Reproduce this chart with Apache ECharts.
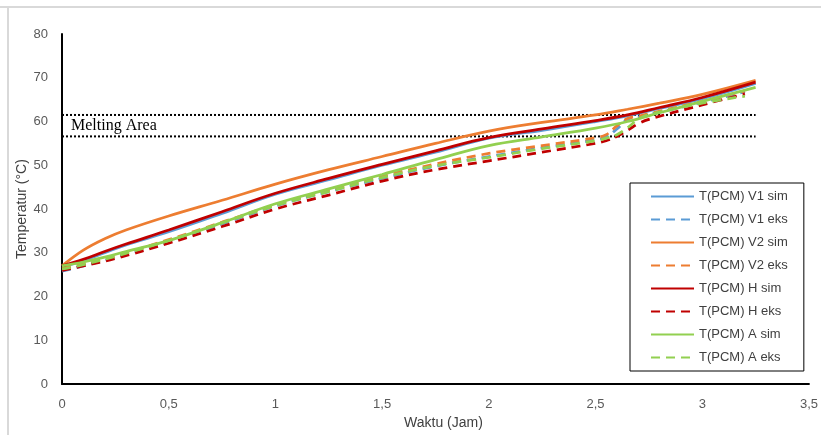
<!DOCTYPE html>
<html>
<head>
<meta charset="utf-8">
<script src="https://cdn.jsdelivr.net/npm/echarts@6/dist/echarts.min.js"></script>
<style>html,body{margin:0;padding:0;background:#fff}#c{width:821px;height:435px}</style>
</head>
<body>
<div id="c"></div>
<script>
var tSim = [0, 0.1, 0.2, 0.3, 0.5, 0.75, 1, 1.25, 1.5, 1.75, 2, 2.25, 2.5, 2.65, 2.8, 3, 3.25];
var v1Sim = [26.8, 28.2, 30, 31.8, 34.8, 39, 43.4, 46.7, 50, 53, 56.2, 58, 60, 61.3, 63, 65.2, 68.7];
var v2Sim = [27, 30.6, 33.2, 35.2, 38.4, 42, 45.7, 49, 52, 55, 57.8, 59.8, 61.5, 62.8, 64.2, 66.2, 69.4];
var hSim  = [27, 28.5, 30.3, 32, 35.2, 39.4, 43.6, 47, 50.2, 53.3, 56.3, 58.3, 60.2, 61.5, 63.2, 65.5, 69];
var aSim  = [27, 27.9, 29, 30.3, 32.8, 36.9, 41.2, 44.6, 47.9, 51.3, 54.5, 56.5, 58.5, 60, 62, 64.6, 67.8];

var tEks = [0, 0.1, 0.25, 0.5, 0.75, 1, 1.25, 1.5, 1.75, 2, 2.25, 2.5, 2.55, 2.6, 2.65, 2.7, 2.75, 3, 3.2];
var v1Eks = [25.8, 27, 29, 32.6, 36.6, 40.7, 44, 47, 49.8, 52, 54, 55.8, 56.5, 58.3, 60.5, 61, 61.6, 64.4, 66.8];
var v2Eks = [26.5, 27.5, 29.3, 33, 37, 41, 44.3, 47.5, 50.3, 52.7, 54.5, 56.3, 57, 59, 60.7, 61.2, 61.8, 64.6, 67];
var hEks  = [26, 27, 28.7, 32.2, 36, 40, 43.2, 46.4, 49, 51, 53, 55, 55.6, 56.6, 58, 59.5, 60.5, 63.8, 66.3];
var aEks  = [26.3, 27.3, 29.2, 32.8, 36.8, 40.8, 44, 47.2, 49.9, 51.8, 53.8, 55.6, 56.2, 57, 58.6, 60.5, 61.6, 64.2, 65.8];

var meltX = [0, 3.25];
var meltUpper = 61.5;
var meltLower = 56.6;

var xTicks = ['0', '0,5', '1', '1,5', '2', '2,5', '3', '3,5'];

var names = ['T(PCM) V1 sim', 'T(PCM) V1 eks', 'T(PCM) V2 sim', 'T(PCM) V2 eks',
             'T(PCM) H sim', 'T(PCM) H eks', 'T(PCM) A sim', 'T(PCM) A eks'];
var colors = ['#5B9BD5', '#5B9BD5', '#ED7D31', '#ED7D31', '#C00000', '#C00000', '#92D050', '#92D050'];
var values = [v1Sim, v1Eks, v2Sim, v2Eks, hSim, hEks, aSim, aEks];

function pairs(ts, vs) { return ts.map(function (t, i) { return [t, vs[i]]; }); }

var series = names.map(function (n, i) {
  var eks = i % 2 === 1;
  return {
    name: n, type: 'line', showSymbol: false, symbol: 'none',
    smooth: 0.4,
    data: pairs(eks ? tEks : tSim, values[i]),
    lineStyle: { color: colors[i], width: 2.75, type: eks ? [9, 6] : 'solid' },
    itemStyle: { color: colors[i] },
    z: 2 + i
  };
});
[meltUpper, meltLower].forEach(function (v) {
  series.push({
    type: 'line', showSymbol: false, symbol: 'none', silent: true,
    data: meltX.map(function (x) { return [x, v]; }),
    lineStyle: { color: '#000', width: 2, type: [2, 2] }, z: 1
  });
});

var chart = echarts.init(document.getElementById('c'));
chart.setOption({
  animation: false,
  backgroundColor: '#fff',
  grid: { left: 62, right: 9, top: 34, bottom: 46 },
  xAxis: {
    type: 'value', min: 0, max: 3.5, interval: 0.5,
    name: 'Waktu (Jam)', nameLocation: 'middle', nameGap: 24,
    nameTextStyle: { fontFamily: 'Liberation Sans', fontSize: 14, color: '#404040', padding: [0, 0, 0, 16] },
    axisLine: { lineStyle: { color: '#000', width: 2 } },
    axisTick: { show: false },
    splitLine: { show: false },
    axisLabel: {
      margin: 14, fontFamily: 'Liberation Sans', fontSize: 13, color: '#595959',
      formatter: function (v) { return xTicks[Math.round(v / 0.5)]; }
    }
  },
  yAxis: {
    type: 'value', min: 0, max: 80, interval: 10,
    name: 'Temperatur (°C)', nameLocation: 'middle', nameGap: 33, nameMoveOverlap: false,
    nameTextStyle: { fontFamily: 'Liberation Sans', fontSize: 14, color: '#404040' },
    axisLine: { show: true, lineStyle: { color: '#000', width: 2 } },
    axisTick: { show: false },
    splitLine: { show: false },
    axisLabel: { margin: 14, fontFamily: 'Liberation Sans', fontSize: 13, color: '#595959' }
  },
  legend: {
    data: names, orient: 'vertical', left: 630, top: 183,
    itemWidth: 43, itemHeight: 12, itemGap: 10,
    padding: [7, 16, 7, 20],
    borderColor: '#000', borderWidth: 1,
    itemStyle: { opacity: 0 },
    textStyle: { fontFamily: 'Liberation Sans', fontSize: 13, color: '#404040' }
  },
  graphic: [
    { type: 'line', shape: { x1: 0, y1: 7, x2: 821, y2: 7 }, style: { stroke: '#d9d9d9', lineWidth: 2 } },
    { type: 'line', shape: { x1: 8, y1: 7, x2: 8, y2: 435 }, style: { stroke: '#d9d9d9', lineWidth: 2 } },
    { type: 'text', left: 71, top: 118, style: { text: 'Melting Area', font: '16px "Liberation Serif"', fill: '#000' } }
  ],
  series: series
});
</script>
</body>
</html>
